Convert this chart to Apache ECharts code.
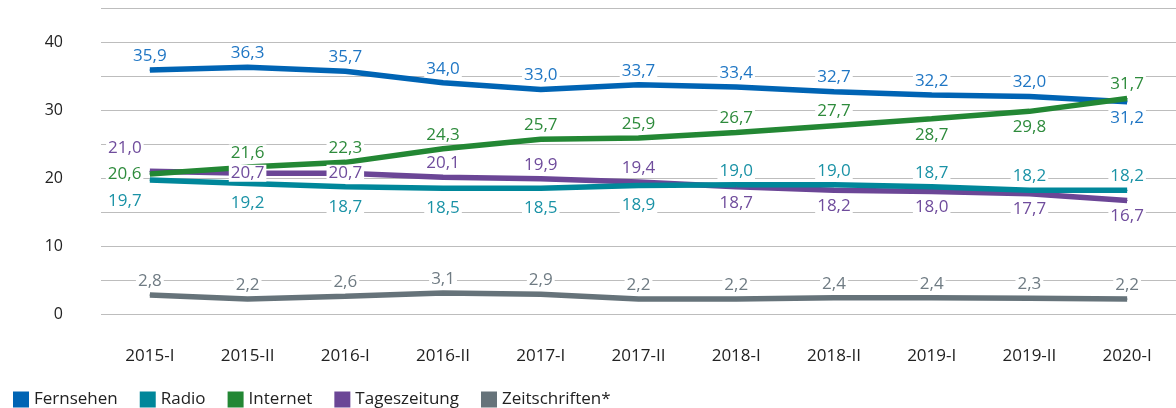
<!DOCTYPE html>
<html>
<head>
<meta charset="utf-8">
<script src="https://cdn.jsdelivr.net/npm/echarts@6/dist/echarts.min.js"></script>
<style>
  html, body { margin: 0; padding: 0; background: #fff; }
  #chart { width: 1176px; height: 408px; }
</style>
</head>
<body>
<div id="chart"></div>
<script>
// Kategorien und Werte
const categories = ["2015-I", "2015-II", "2016-I", "2016-II", "2017-I", "2017-II",
  "2018-I", "2018-II", "2019-I", "2019-II", "2020-I"];
const fernsehen = [35.9, 36.3, 35.7, 34.0, 33.0, 33.7, 33.4, 32.7, 32.2, 32.0, 31.2];
const radio = [19.7, 19.2, 18.7, 18.5, 18.5, 18.9, 19.0, 19.0, 18.7, 18.2, 18.2];
const internet = [20.6, 21.6, 22.3, 24.3, 25.7, 25.9, 26.7, 27.7, 28.7, 29.8, 31.7];
const tageszeitung = [21.0, 20.7, 20.7, 20.1, 19.9, 19.4, 18.7, 18.2, 18.0, 17.7, 16.7];
const zeitschriften = [2.8, 2.2, 2.6, 3.1, 2.9, 2.2, 2.2, 2.4, 2.4, 2.3, 2.2];
const yTicks = [0, 10, 20, 30, 40];

const FONT = "Open Sans";
const fmt = (v) => v.toFixed(1).replace(".", ",");

// Label-Platzierung je Punkt ("t" oben, "b" unten, "c" mittig, "l" links ...)
const posFernsehen = ["t", "t", "t", "t", "t", "t", "t", "t", "t", "t", "b"];
const posRadio = ["lb", "B", "B", "B", "B", "B", "t", "t", "t", "t", "t"];
const posInternet = ["l", "t", "t", "t", "t", "t", "t", "t", "b", "b", "t"];
const posTages = ["lt", "c", "c", "t", "t", "t", "b", "b", "b", "b", "b"];
const posZeit = ["t", "t", "t", "t", "t", "t", "t", "t", "t", "t", "t"];

function labelFor(p, color) {
  const base = {
    show: true,
    color: color,
    fontFamily: FONT,
    fontSize: 17,
    backgroundColor: "#fff",
    padding: [0, 2],
    formatter: (o) => fmt(o.value),
  };
  if (p === "t") return Object.assign(base, { position: "top", distance: 5 });
  if (p === "b") return Object.assign(base, { position: "bottom", distance: 7 });
  if (p === "B") return Object.assign(base, { position: "bottom", distance: 11 });
  if (p === "c") return Object.assign(base, { position: "inside" });
  if (p === "l") return Object.assign(base, { position: "left", distance: 6 });
  if (p === "lt") return Object.assign(base, { position: "inside", offset: [-25, -23] });
  if (p === "lb") return Object.assign(base, { position: "inside", offset: [-25, 21] });
  return base;
}

function makeSeries(name, values, positions, lineColor, labelColor) {
  return {
    name: name,
    type: "line",
    z: 2,
    symbol: "circle",
    symbolSize: 1,
    itemStyle: { color: lineColor },
    lineStyle: { color: lineColor, width: 5.5 },
    emphasis: { disabled: true },
    data: values.map((v, i) => ({ value: v, label: labelFor(positions[i], labelColor) })),
  };
}

const options = {
  animation: false,
  grid: { left: 101, right: -6, top: 8, bottom: 94 },
  legend: {
    left: 8,
    top: 386,
    icon: "rect",
    itemWidth: 16,
    itemHeight: 16,
    itemGap: 22,
    data: ["Fernsehen", "Radio", "Internet", "Tageszeitung", "Zeitschriften*"],
    textStyle: { fontFamily: FONT, fontSize: 17, color: "#222" },
  },
  xAxis: {
    type: "category",
    data: categories,
    boundaryGap: true,
    axisLine: { show: false },
    axisTick: { show: false },
    axisLabel: { fontFamily: FONT, fontSize: 17, color: "#222", margin: 34 },
  },
  yAxis: {
    type: "value",
    min: 0,
    max: 45,
    interval: 5,
    axisLine: { show: false },
    axisTick: { show: false },
    splitLine: { lineStyle: { color: "#bdbdbd", width: 1.2 } },
    axisLabel: {
      fontFamily: FONT,
      fontSize: 16,
      color: "#222",
      margin: 38,
      formatter: (v) => (yTicks.includes(v) ? String(v) : ""),
    },
  },
  series: [
    makeSeries("Zeitschriften*", zeitschriften, posZeit, "#66737a", "#6f7b83"),
    makeSeries("Fernsehen", fernsehen, posFernsehen, "#0064b4", "#1f76c4"),
    makeSeries("Tageszeitung", tageszeitung, posTages, "#6b4696", "#6f4c9c"),
    makeSeries("Radio", radio, posRadio, "#00879a", "#1a92a6"),
    makeSeries("Internet", internet, posInternet, "#238734", "#2e8b3c"),
  ],
};

const chart = echarts.init(document.getElementById("chart"));
chart.setOption(options);
</script>
</body>
</html>
